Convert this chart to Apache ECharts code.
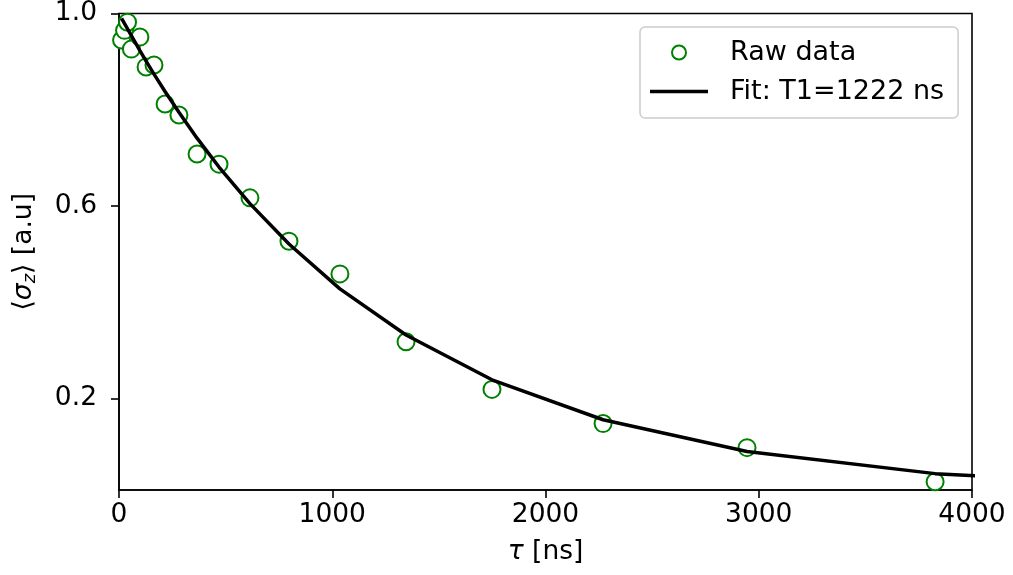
<!DOCTYPE html>
<html>
<head>
<meta charset="utf-8">
<script src="https://cdn.jsdelivr.net/npm/echarts@6/dist/echarts.min.js"></script>
<style>
html,body{margin:0;padding:0;background:#fff;}
#c{width:1013px;height:575px;}
</style>
</head>
<body>
<div id="c"></div>
<script>
// Raw data: delay tau [ns] and <sigma_z>
const tauRaw = [12, 26, 40, 58, 98, 127, 164, 216, 281, 366, 469, 614, 797, 1036, 1346, 1749, 2270, 2945, 3827];
const sigmaRaw = [0.945, 0.965, 0.982, 0.926, 0.951, 0.889, 0.893, 0.812, 0.789, 0.708, 0.687, 0.617, 0.527, 0.459, 0.318, 0.219, 0.148, 0.098, 0.027];
// Fit curve (T1 = 1222 ns), sampled at the data delays plus one beyond the axis
const tauFit = [12, 26, 40, 58, 98, 127, 164, 216, 281, 366, 469, 614, 797, 1036, 1346, 1749, 2270, 2945, 3827, 4975];
const sigmaFit = [0.990, 0.979, 0.968, 0.954, 0.923, 0.901, 0.874, 0.838, 0.795, 0.741, 0.681, 0.605, 0.521, 0.428, 0.332, 0.239, 0.156, 0.090, 0.044, 0.017];
const xTicks = [0, 1000, 2000, 3000, 4000];
const yTicks = [0.2, 0.6, 1.0];

const FONT = 'DejaVu Sans';
const FS = 26.5;
const chart = echarts.init(document.getElementById('c'), null, {renderer: 'canvas'});
chart.setOption({
  animation: false,
  backgroundColor: '#fff',
  textStyle: {fontFamily: FONT},
  grid: {left: 119, right: 41, top: 13, bottom: 85, show: true, borderColor: '#000', borderWidth: 1.6, backgroundColor: 'transparent'},
  legend: {
    orient: 'vertical',
    left: 640, top: 27,
    padding: [12, 14, 13, 10],
    itemWidth: 58, itemHeight: 14, itemGap: 12,
    borderColor: '#cccccc', borderWidth: 1.5, borderRadius: 5,
    backgroundColor: '#fff',
    textStyle: {fontSize: 27, color: '#000', fontFamily: FONT, padding: [0, 0, 0, 17]},
    data: [
      {name: 'Raw data', icon: 'emptyCircle', itemStyle: {color: '#008000', borderColor: '#008000', borderWidth: 2.4, opacity: 1}},
      {name: 'Fit: T1=1222 ns', icon: 'path://M0,0 L58,0 L58,3.5 L0,3.5 Z', itemStyle: {color: '#000'}}
    ]
  },
  xAxis: {
    type: 'value', min: xTicks[0], max: xTicks[xTicks.length - 1], interval: 1000,
    name: '{i|τ}{n| [ns]}',
    nameLocation: 'middle', nameGap: 49,
    nameTextStyle: {rich: {i: {fontSize: FS, fontStyle: 'italic', fontFamily: FONT, color: '#000'}, n: {fontSize: FS, fontFamily: FONT, color: '#000'}}},
    axisLine: {show: true, onZero: false, lineStyle: {color: '#000', width: 1.6}},
    axisTick: {show: true, length: 8, lineStyle: {color: '#000', width: 1.6}},
    axisLabel: {fontSize: FS, color: '#000', margin: 12, fontFamily: FONT, formatter: v => String(v)},
    splitLine: {show: false}
  },
  yAxis: {
    type: 'value', min: 0.01, max: 1.0,
    name: '{n|⟨}{s|σ}{z|z}{n|⟩ [a.u]}',
    nameLocation: 'middle', nameGap: 80, nameRotate: 90,
    nameTextStyle: {rich: {
      n: {fontSize: FS, fontFamily: FONT, color: '#000'},
      s: {fontSize: FS, fontStyle: 'italic', fontFamily: FONT, color: '#000'},
      z: {fontSize: 18, fontStyle: 'italic', fontFamily: FONT, color: '#000', verticalAlign: 'bottom', padding: [11, 0, 0, 0]}
    }},
    axisLine: {show: true, onZero: false, lineStyle: {color: '#000', width: 1.6}},
    axisTick: {show: true, length: 8, customValues: yTicks, lineStyle: {color: '#000', width: 1.6}},
    axisLabel: {fontSize: FS, color: '#000', margin: 22, fontFamily: FONT, customValues: yTicks, formatter: v => v.toFixed(1)},
    splitLine: {show: false}
  },
  series: [
    {
      name: 'Raw data', type: 'scatter',
      data: tauRaw.map((t, i) => [t, sigmaRaw[i]]),
      symbol: 'emptyCircle', symbolSize: 17,
      itemStyle: {color: '#008000', borderColor: '#008000', borderWidth: 2.4, opacity: 1},
      z: 3
    },
    {
      name: 'Fit: T1=1222 ns', type: 'line',
      data: tauFit.map((t, i) => [t, sigmaFit[i]]),
      showSymbol: false, symbol: 'none',
      lineStyle: {color: '#000', width: 3.5},
      itemStyle: {color: '#000'},
      clip: true, z: 4
    }
  ]
});
</script>
</body>
</html>
